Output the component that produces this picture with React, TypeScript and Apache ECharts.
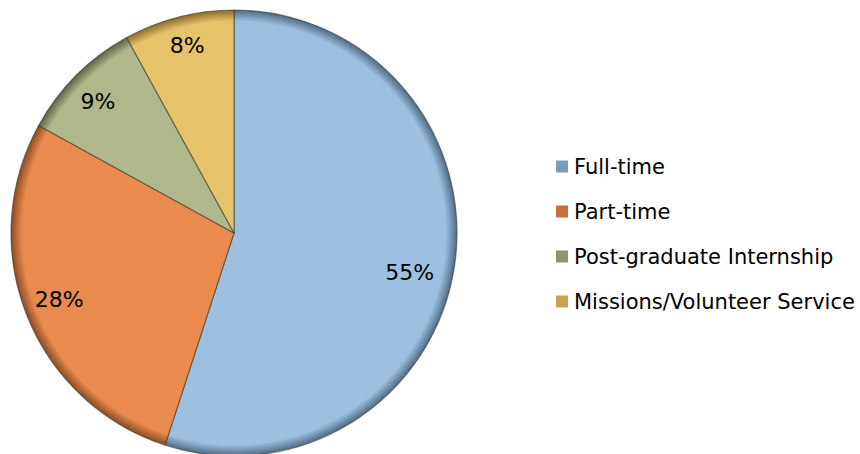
import React, { useEffect, useRef } from "react";
import * as echarts from "echarts";

const categories = ["Full-time", "Part-time", "Post-graduate Internship", "Missions/Volunteer Service"];
const values = [55, 28, 9, 8];
const baseColors = ["#9DC0E0", "#E98B4F", "#B0B78B", "#E6C26B"];
const rimColors = ["#4F6A84", "#8A4B22", "#5E6446", "#8A6C2A"];
const legendColors = ["#7C9BB8", "#C8703A", "#8E9570", "#C9A552"];
const labelOffsets = [[-10, 10], [0, -3], [-3, 1], [0, -5]];

const CX = 234;
const CY = 233;
const R = 223;
const FONT = "DejaVu Sans";

export default function App() {
  const ref = useRef<HTMLDivElement>(null);
  useEffect(() => {
    if (!ref.current) return;
    const chart = echarts.init(ref.current, null, { renderer: "svg" });
    const mainData = categories.map((name, i) => ({
      name,
      value: values[i],
      itemStyle: {
        color: new echarts.graphic.RadialGradient(
          CX,
          CY,
          R,
          [
            { offset: 0, color: baseColors[i] },
            { offset: 0.9, color: baseColors[i] },
            { offset: 0.95, color: baseColors[i] },
            { offset: 1, color: rimColors[i] },
          ],
          true
        ),
      },
    }));
    const labelData = categories.map((name, i) => ({
      name: name + " ",
      value: values[i],
      label: { offset: labelOffsets[i] },
    }));
    chart.setOption({
      animation: false,
      backgroundColor: "#ffffff",
      legend: {
        orient: "vertical",
        left: 556,
        top: 156,
        itemWidth: 12,
        itemHeight: 12,
        itemGap: 24,
        padding: 0,
        icon: "rect",
        selectedMode: false,
        itemStyle: { borderWidth: 0 },
        textStyle: { fontSize: 21, color: "#000", fontFamily: FONT, padding: [0, 0, 0, 1] },
        data: categories.map((name, i) => ({
          name,
          itemStyle: { color: legendColors[i], borderWidth: 0 },
        })),
      },
      series: [
        {
          type: "pie",
          center: [CX, CY],
          radius: [0, R],
          startAngle: 90,
          clockwise: true,
          silent: true,
          label: { show: false },
          labelLine: { show: false },
          itemStyle: {
            borderColor: "rgba(50,50,40,0.55)",
            borderWidth: 1.2,
          },
          data: mainData,
        },
        {
          type: "pie",
          center: [CX, CY],
          radius: [R * 0.66, R],
          startAngle: 90,
          clockwise: true,
          silent: true,
          legendHoverLink: false,
          itemStyle: { color: "rgba(0,0,0,0)" },
          label: {
            show: true,
            position: "inside",
            formatter: "{d}%",
            fontSize: 22,
            fontFamily: FONT,
            color: "#000",
          },
          labelLine: { show: false },
          data: labelData,
        },
      ],
    });
    return () => chart.dispose();
  }, []);
  return (
    <div
      ref={ref}
      style={{ position: "fixed", left: 0, top: 0, width: 860, height: 454 }}
    />
  );
}
